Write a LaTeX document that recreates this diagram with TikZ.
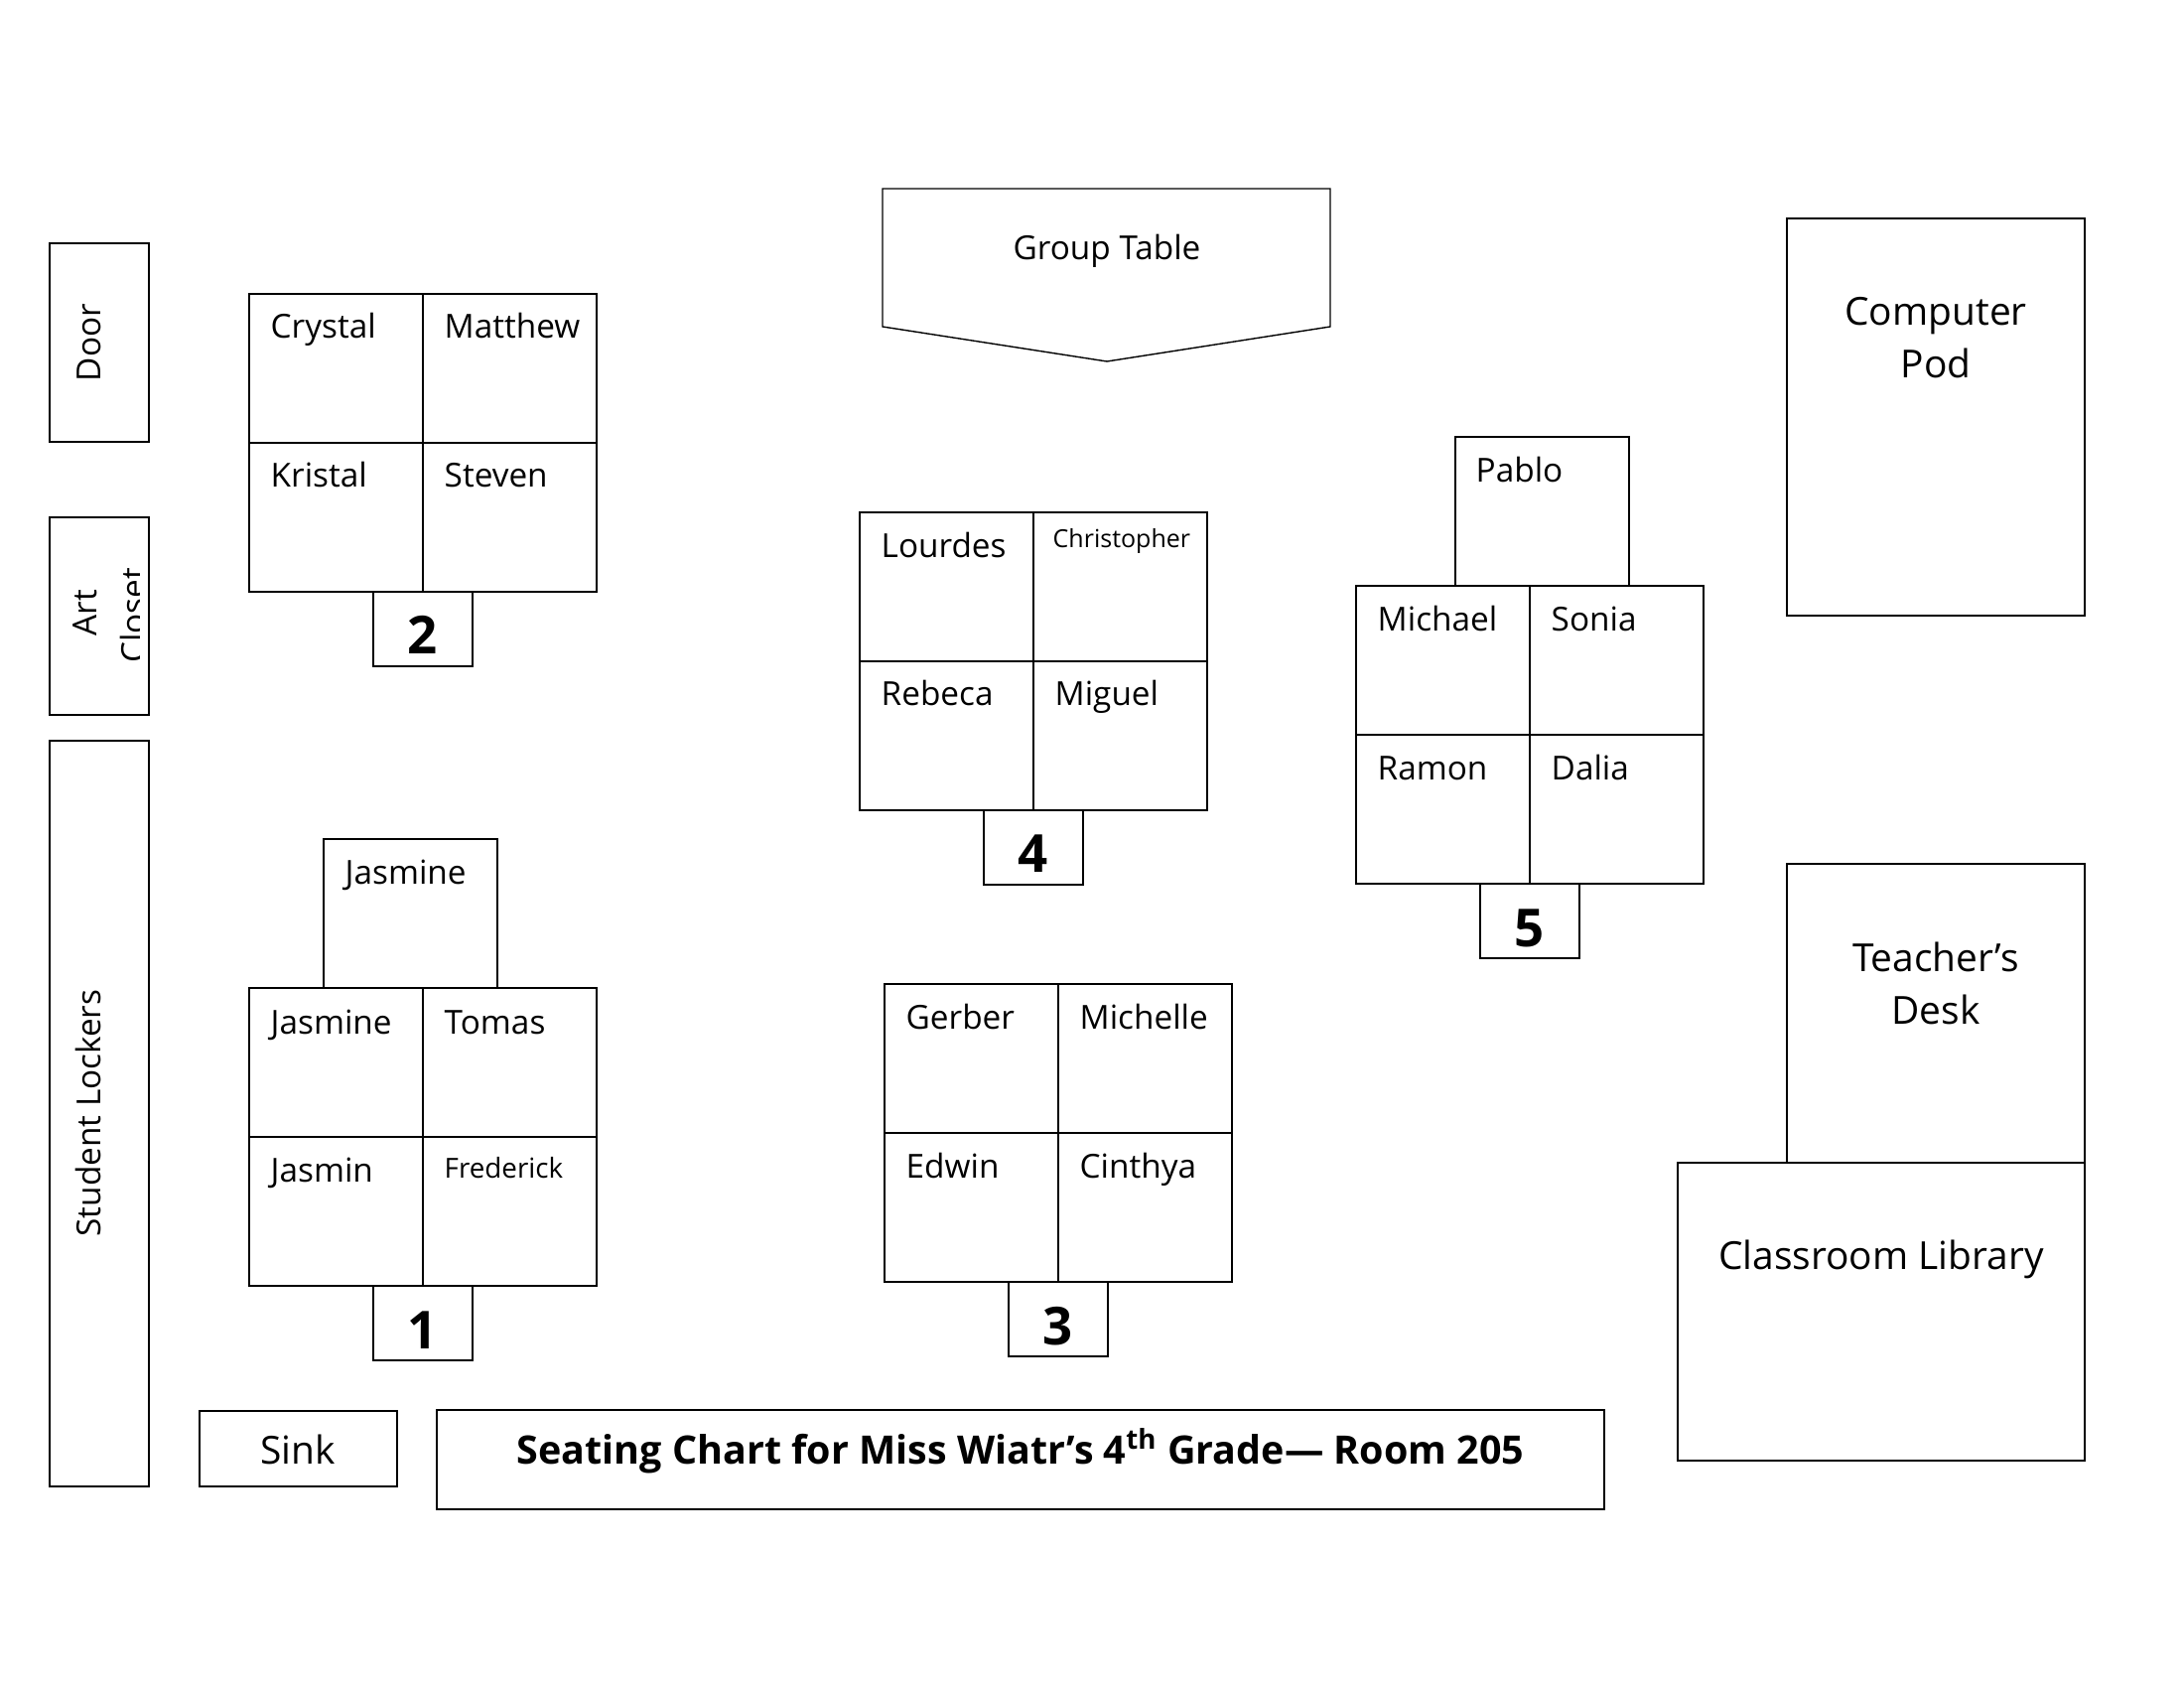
\documentclass[tikz,border=0pt]{standalone}
\usepackage{fontspec}
\setmainfont{Open Sans}
\newcommand\seatpod[6]{%
  \draw (#1,#2) rectangle (#3,#4);
  \draw (#5,#2) -- (#5,#4);
  \draw (#1,#6) -- (#3,#6);}
\begin{document}
\begin{tikzpicture}[x=0.36pt,y=-0.36pt,line width=0.5pt,
  nm/.style={anchor=base west,inner sep=0pt,font=\fontsize{12}{14}\selectfont},
  nmsmall/.style={nm,font=\fontsize{9}{11}\selectfont},
  nmmid/.style={nm,font=\fontsize{10}{12}\selectfont},
  num/.style={anchor=base,inner sep=0pt,font=\fontsize{19}{22}\selectfont\bfseries},
  lbl/.style={anchor=base,inner sep=0pt,font=\fontsize{14}{17}\selectfont},
  lblsm/.style={anchor=base,inner sep=0pt,font=\fontsize{12}{14}\selectfont},
  side/.style={anchor=base,inner sep=0pt,rotate=90,font=\fontsize{12}{14}\selectfont}]
\useasboundingbox (0,0) rectangle (2200,1700);
\fill[white] (0,0) rectangle (2200,1700);

% left wall items
\draw (50,245) rectangle (150,445);
\node[side] (door) at (101,345) {Door};
\draw (50,521) rectangle (150,720);
\begin{scope}
  \clip (50,521) rectangle (140,720);
  \node[side] (art) at (97,617) {Art};
  \node[side] (closet) at (146,620) {Closet};
\end{scope}
\draw (50,746) rectangle (150,1497);
\node[side] (lockers) at (101,1121) {Student Lockers};

% sink and title
\draw (201,1421) rectangle (400,1497);
\node[lbl] (sink) at (300,1474) {Sink};
\draw (440,1420) rectangle (1616,1520);
\node[anchor=base,inner sep=0pt,font=\fontsize{14.2}{17}\selectfont\bfseries] (title) at (1028,1474)
  {Seating Chart for Miss Wiatr’s 4\textsuperscript{th} Grade— Room 205};

% group table
\draw (889,190) -- (1340,190) -- (1340,329) -- (1115,364) -- (889,329) -- cycle;
\node[lblsm] (gt) at (1115,262) {Group Table};

% right side
\draw (1800,220) rectangle (2100,620);
\node[lbl] (cp1) at (1950,328) {Computer};
\node[lbl] (cp2) at (1950,381) {Pod};
\draw (1800,870) rectangle (2100,1171);
\node[lbl] (td1) at (1950,978) {Teacher’s};
\node[lbl] (td2) at (1950,1031) {Desk};
\draw (1690,1171) rectangle (2100,1471);
\node[lbl] (lib) at (1895,1278) {Classroom Library};

% pod 2
\seatpod{251}{296}{601}{596}{426}{446}
\draw (376,596) rectangle (476,671);
\node[nm] (p2a) at (272,341) {Crystal};
\node[nm] (p2b) at (447,341) {Matthew};
\node[nm] (p2c) at (272,491) {Kristal};
\node[nm] (p2d) at (447,491) {Steven};
\node[num] (n2) at (426,659) {2};

% pod 4
\seatpod{866}{516}{1216}{816}{1041}{666}
\draw (991,816) rectangle (1091,891);
\node[nm] (p4a) at (887,562) {Lourdes};
\node[nmsmall] (p4b) at (1060,552) {Christopher};
\node[nm] (p4c) at (887,711) {Rebeca};
\node[nm] (p4d) at (1062,711) {Miguel};
\node[num] (n4) at (1041,878) {4};

% pod 5
\draw (1466,440) rectangle (1641,590);
\seatpod{1366}{590}{1716}{890}{1541}{740}
\draw (1491,890) rectangle (1591,965);
\node[nm] (p5e) at (1486,486) {Pablo};
\node[nm] (p5a) at (1387,636) {Michael};
\node[nm] (p5b) at (1562,636) {Sonia};
\node[nm] (p5c) at (1387,786) {Ramon};
\node[nm] (p5d) at (1562,786) {Dalia};
\node[num] (n5) at (1541,953) {5};

% pod 1
\draw (326,845) rectangle (501,995);
\seatpod{251}{995}{601}{1295}{426}{1145}
\draw (376,1295) rectangle (476,1370);
\node[nm] (p1e) at (347,891) {Jasmine};
\node[nm] (p1a) at (272,1041) {Jasmine};
\node[nm] (p1b) at (447,1041) {Tomas};
\node[nm] (p1c) at (272,1190) {Jasmin};
\node[nmmid] (p1d) at (447,1186) {Frederick};
\node[num] (n1) at (426,1358) {1};

% pod 3
\seatpod{891}{991}{1241}{1291}{1066}{1141}
\draw (1016,1291) rectangle (1116,1366);
\node[nm] (p3a) at (912,1036) {Gerber};
\node[nm] (p3b) at (1087,1036) {Michelle};
\node[nm] (p3c) at (912,1186) {Edwin};
\node[nm] (p3d) at (1087,1186) {Cinthya};
\node[num] (n3) at (1066,1354) {3};
\end{tikzpicture}
\end{document}
